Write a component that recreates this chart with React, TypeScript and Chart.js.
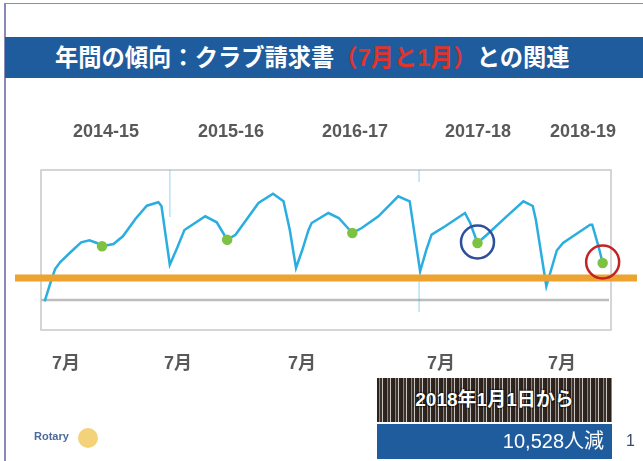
import React, { useEffect, useRef } from "react";
import { Chart, registerables } from "chart.js";

Chart.register(...registerables);

// Months elapsed since 1 July 2014
const months = [
  0.5, 1.0, 1.5, 2.0, 2.9, 4.0, 4.8, 5.5, 6.0, 7.1, 8.0, 9.2, 10.3, 11.4, 11.7, 12.5,
  13.2, 13.9, 15.9, 17.0, 18.0, 18.8, 21.0, 22.4, 23.4, 24.0, 24.6,
  25.2, 25.8, 26.1, 27.7, 28.7, 30.0, 30.9, 32.5, 34.4, 35.5, 36.5,
  37.1, 37.6, 38.9, 40.8, 41.3, 42.0, 42.9, 44.8, 46.4, 47.3, 47.6, 48.6,
  49.6, 50.2, 50.9, 52.8, 53.0, 53.6, 54.0,
];
// Relative membership level (index)
const members = [
  28.7, 45.3, 61, 68, 77, 87.7, 89.7, 87, 83.7, 86, 93.7, 111, 124.3, 127.7, 124, 65.3,
  82, 100, 113.7, 107.7, 90.3, 95.3, 127, 136.3, 128.7, 100.3, 62,
  80, 100, 107, 117, 112, 97, 102, 113.7, 133.7, 128.7, 58.7,
  80.3, 95.3, 103.7, 117, 107, 87, 95.3, 113.7, 128.7, 124, 110, 43.7,
  79.5, 87, 92, 105.3, 105.3, 83.7, 67,
];
const januaryMonths = [6, 18, 30, 42, 54];
const circledPoints = [
  { month: 42, color: "#2d4f9c" },
  { month: 54, color: "#c42324" },
];
const yearLabels = ["2014-15", "2015-16", "2016-17", "2017-18", "2018-19"];
const yearLabelX = [106, 231, 355, 478, 583];
const julyLabels = ["7月", "7月", "7月", "7月", "7月"];
const julyLabelX = [52, 164, 288, 427, 548];
const referenceLevel = 52;
const baselineLevel = 30;

const overlayPlugin = {
  id: "overlay",
  beforeDatasetsDraw(chart: any) {
    const { ctx, chartArea, scales } = chart;
    ctx.save();
    ctx.strokeStyle = "#c8c8c8";
    ctx.lineWidth = 1.5;
    ctx.strokeRect(chartArea.left, chartArea.top, chartArea.right - chartArea.left, chartArea.bottom - chartArea.top);
    const by = scales.y.getPixelForValue(baselineLevel);
    ctx.strokeStyle = "#bdbdbd";
    ctx.lineWidth = 2.5;
    ctx.beginPath();
    ctx.moveTo(chartArea.left, by);
    ctx.lineTo(chartArea.right - 2, by);
    ctx.stroke();
    // faint scan artefacts at two July resets
    ctx.strokeStyle = "rgba(42,174,224,0.35)";
    ctx.lineWidth = 1.5;
    const x1 = scales.x.getPixelForValue(12.5);
    ctx.beginPath();
    ctx.moveTo(x1, chartArea.top);
    ctx.lineTo(x1, chartArea.top + 47);
    ctx.stroke();
    const x2 = scales.x.getPixelForValue(36.4);
    ctx.beginPath();
    ctx.moveTo(x2, chartArea.top);
    ctx.lineTo(x2, chartArea.top + 12);
    ctx.moveTo(x2, scales.y.getPixelForValue(55));
    ctx.lineTo(x2, scales.y.getPixelForValue(18));
    ctx.stroke();
    ctx.restore();
  },
  afterDatasetsDraw(chart: any) {
    const { ctx, scales } = chart;
    ctx.save();
    const oy = scales.y.getPixelForValue(referenceLevel);
    ctx.strokeStyle = "#eca330";
    ctx.lineWidth = 7;
    ctx.beginPath();
    ctx.moveTo(15, oy);
    ctx.lineTo(637, oy);
    ctx.stroke();
    circledPoints.forEach((c) => {
      const i = months.indexOf(c.month);
      const px = scales.x.getPixelForValue(months[i]);
      const py = scales.y.getPixelForValue(members[i]);
      ctx.strokeStyle = c.color;
      ctx.lineWidth = 2.5;
      ctx.beginPath();
      ctx.arc(px, py - 1, 16.5, 0, Math.PI * 2);
      ctx.stroke();
    });
    ctx.restore();
  },
};

export default function App() {
  const ref = useRef<HTMLCanvasElement>(null);
  useEffect(() => {
    document.body.style.margin = "0";
    const chart = new Chart(ref.current!, {
      type: "line",
      data: {
        datasets: [
          {
            data: months.map((m, i) => ({ x: m, y: members[i] })),
            borderColor: "#2aaee0",
            borderWidth: 2.5,
            tension: 0,
            pointRadius: months.map((m) => (januaryMonths.includes(m) ? 4 : 0)),
            pointBackgroundColor: "#7dc243",
            pointBorderColor: "#7dc243",
          },
        ],
      },
      options: {
        animation: false,
        responsive: false,
        layout: { padding: { left: 41, top: 170, right: 32, bottom: 131 } },
        plugins: { legend: { display: false }, tooltip: { enabled: false } },
        scales: {
          x: { type: "linear", min: 0.15, max: 54.8, display: false },
          y: { min: 0, max: 160, display: false },
        },
      },
      plugins: [overlayPlugin],
    });
    return () => chart.destroy();
  }, []);

  const jp = '"Liberation Sans", "Noto Sans CJK JP", sans-serif';
  return (
    <div style={{ position: "fixed", left: 0, top: 0, width: 643, height: 461, background: "#fff", overflow: "hidden", fontFamily: jp }}>
      <canvas ref={ref} width={643} height={461} style={{ position: "absolute", left: 0, top: 0 }} />
      <div style={{ position: "absolute", left: 4, top: 3, width: 639, height: 1, background: "#8a8ab8" }} />
      <div style={{ position: "absolute", left: 4, top: 3, width: 1.5, height: 458, background: "#8a8ab8" }} />
      <div style={{ position: "absolute", left: 5, top: 37, width: 638, height: 41, background: "#1f5c9e" }} />
      <div style={{ position: "absolute", left: 55, top: 37, height: 41, lineHeight: "41px", fontSize: 24, fontWeight: "bold", color: "#fff", whiteSpace: "nowrap", transform: "scaleX(0.97)", transformOrigin: "left center" }}>
        年間の傾向：クラブ請求書<span style={{ color: "#e2332d" }}>（7月と1月）</span>との関連
      </div>
      {yearLabels.map((t, i) => (
        <div key={t} style={{ position: "absolute", left: yearLabelX[i] - 50, width: 100, top: 121, textAlign: "center", fontSize: 18, fontWeight: "bold", color: "#595959" }}>{t}</div>
      ))}
      {julyLabels.map((t, i) => (
        <div key={i} style={{ position: "absolute", left: julyLabelX[i], top: 348, fontSize: 18, fontWeight: "bold", color: "#595959" }}>{t}</div>
      ))}
      <div style={{ position: "absolute", left: 377, top: 378, width: 235, height: 44, background: "repeating-linear-gradient(90deg, #2a211c 0px, #2a211c 2px, #8d857f 2px, #8d857f 3px, #3d322b 3px, #3d322b 5px, #c9c5c1 5px, #c9c5c1 6px, #2f2620 6px, #2f2620 8px)", color: "#fff", fontSize: 19, fontWeight: "bold", lineHeight: "44px", textAlign: "center", textShadow: "0 0 2px #000, 0 0 2px #000" }}>
        2018年1月1日から
      </div>
      <div style={{ position: "absolute", left: 377, top: 424, width: 235, height: 35, background: "#1f5c9e", color: "#fff", fontSize: 20, lineHeight: "35px", textAlign: "right", paddingRight: 8, boxSizing: "border-box" }}>
        10,528人減
      </div>
      <div style={{ position: "absolute", left: 626, top: 432, fontSize: 16, color: "#3b4a6b" }}>1</div>
      <div style={{ position: "absolute", left: 34, top: 430, fontSize: 11, fontWeight: "bold", color: "#4d6a9c" }}>Rotary</div>
      <div style={{ position: "absolute", left: 78, top: 428, width: 20, height: 20, borderRadius: "50%", background: "#f3d27a" }} />
    </div>
  );
}
